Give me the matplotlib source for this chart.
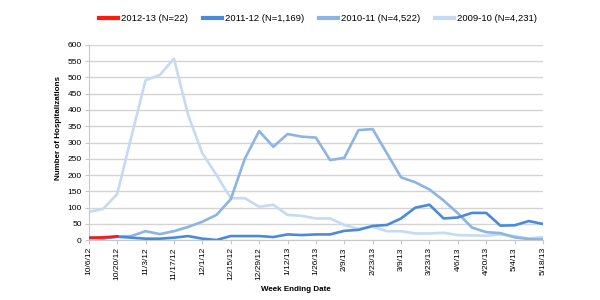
import matplotlib
matplotlib.use("Agg")
import matplotlib.pyplot as plt
import numpy as np

dates = ["10/6/12", "10/13/12", "10/20/12", "10/27/12", "11/3/12", "11/10/12", "11/17/12",
         "11/24/12", "12/1/12", "12/8/12", "12/15/12", "12/22/12", "12/29/12", "1/5/13",
         "1/12/13", "1/19/13", "1/26/13", "2/2/13", "2/9/13", "2/16/13", "2/23/13", "3/2/13",
         "3/9/13", "3/16/13", "3/23/13", "3/30/13", "4/6/13", "4/13/13", "4/20/13", "4/27/13",
         "5/4/13", "5/11/13", "5/18/13"]

s_2012 = [7, 9, 12]
s_2011 = [9, 7, 11, 8, 5, 5, 8, 13, 5, 1, 13, 13, 13, 10, 18, 16, 18, 18, 29, 32, 44, 47,
          67, 100, 109, 67, 70, 84, 84, 45, 46, 59, 50]
s_2010 = [8, 5, 11, 13, 28, 19, 28, 41, 57, 78, 126, 251, 335, 287, 326, 318, 315, 246, 253,
          338, 341, 267, 193, 178, 156, 122, 83, 39, 25, 22, 9, 4, 3]
s_2009 = [87, 96, 142, 318, 491, 507, 557, 384, 267, 200, 129, 129, 103, 109, 78, 75, 67, 67,
          47, 35, 42, 28, 28, 21, 21, 23, 16, 15, 14, 18, 13, 5, 10]

labels = ["2012-13 (N=22)", "2011-12 (N=1,169)", "2010-11 (N=4,522)", "2009-10 (N=4,231)"]
colors = ["#ff1a0a", "#4a8ad8", "#8cb4e4", "#c5daf3"]

fig = plt.figure(figsize=(6, 3), dpi=100)
ax = fig.add_axes([0.148, 0.199, 0.757, 0.652])

x = np.arange(len(dates))
lw = 1.9
ax.plot(x[:len(s_2009)], s_2009, color=colors[3], lw=lw, label=labels[3], zorder=2)
ax.plot(x[:len(s_2010)], s_2010, color=colors[2], lw=lw, label=labels[2], zorder=3)
ax.plot(x[:len(s_2011)], s_2011, color=colors[1], lw=lw, label=labels[1], zorder=4)
ax.plot(x[:len(s_2012)], s_2012, color=colors[0], lw=lw, label=labels[0], zorder=5)

ax.set_xlim(0, len(dates) - 1)
ax.set_ylim(0, 600)
ax.set_yticks(np.arange(0, 601, 50))
ax.set_xticks(x[::2])
ax.set_xticklabels(dates[::2], rotation=90, fontsize=6, family="Liberation Sans")
for t in ax.get_yticklabels():
    t.set_fontsize(6)
    t.set_family("Liberation Sans")
ax.tick_params(axis="both", length=3, width=0.8, color="#c8c8c8", pad=2)
ax.grid(axis="y", color="#d4d4d4", lw=1)
ax.set_axisbelow(True)
for s in ["top", "right"]:
    ax.spines[s].set_visible(False)
ax.spines["left"].set_color("#c8c8c8")
ax.spines["bottom"].set_color("#c8c8c8")

ax.set_ylabel("Number of Hospitalizations", fontsize=5.8, fontweight="bold",
              family="Liberation Sans")
ax.yaxis.set_label_coords(-0.059, 0.574)
ax.set_xlabel("Week Ending Date", fontsize=5.8, fontweight="bold",
              family="Liberation Sans")
ax.xaxis.set_label_coords(0.456, -0.234)

handles, labs = ax.get_legend_handles_labels()
order = [labs.index(l) for l in labels]
leg = fig.legend([handles[i] for i in order], [labs[i] for i in order],
                 loc="center", bbox_to_anchor=(0.53, 0.937), ncol=4, frameon=False,
                 prop={"family": "Liberation Sans", "size": 6.8},
                 handlelength=2.0, handletextpad=0.3, columnspacing=1.6)
for line in leg.get_lines():
    line.set_linewidth(3)

fig.savefig("out.png", dpi=100)
